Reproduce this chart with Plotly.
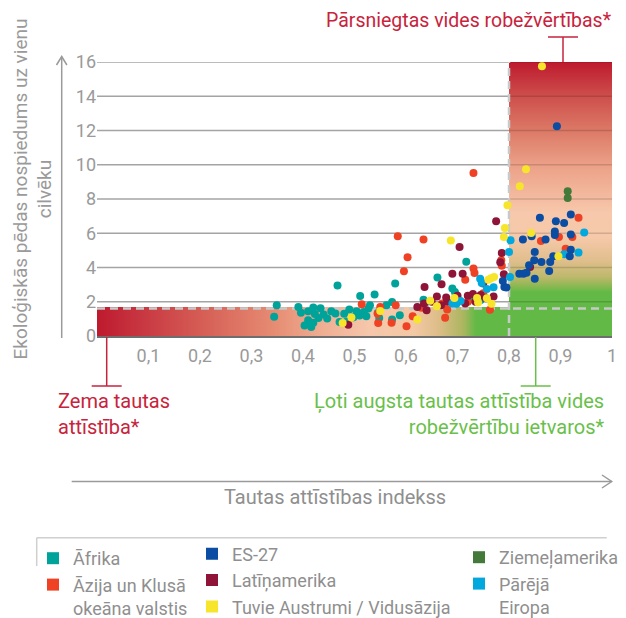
import plotly.graph_objects as go

# ---------------- data (HDI vs ecological footprint, gha per person) ----------------
afrika_x = [0.349, 0.344, 0.391, 0.396, 0.403, 0.416, 0.410, 0.420, 0.423, 0.434,
            0.430, 0.447, 0.467, 0.463, 0.471, 0.480, 0.485, 0.490, 0.498, 0.504,
            0.511, 0.510, 0.518, 0.523, 0.527, 0.539, 0.548, 0.562, 0.573, 0.573,
            0.579, 0.588, 0.634, 0.661, 0.690, 0.695, 0.697, 0.717, 0.695, 0.728,
            0.745, 0.545, 0.455, 0.440, 0.410, 0.420, 0.530, 0.638, 0.700]
afrika_y = [1.79, 1.12, 1.69, 1.36, 0.62, 0.53, 0.92, 1.66, 1.28, 1.62,
            1.05, 1.02, 2.95, 1.32, 0.82, 1.30, 0.85, 1.55, 1.10, 1.45,
            2.34, 1.20, 1.40, 1.15, 1.60, 2.43, 1.05, 1.79, 1.99, 0.96,
            3.06, 1.21, 2.12, 3.41, 2.77, 2.57, 2.43, 4.34, 2.05, 2.15,
            2.10, 1.35, 1.45, 1.25, 1.45, 0.78, 1.80, 1.95, 2.20]

azija_x = [0.731, 0.584, 0.634, 0.603, 0.596, 0.514, 0.550, 0.546, 0.572, 0.580,
           0.601, 0.613, 0.676, 0.680, 0.715, 0.731, 0.733, 0.785, 0.786, 0.763,
           0.862, 0.897, 0.923, 0.910, 0.935, 0.545, 0.670, 0.720, 0.750, 0.630]
azija_y = [9.52, 5.82, 5.63, 4.60, 3.78, 1.85, 1.70, 0.76, 0.78, 1.79,
           0.57, 1.15, 1.07, 1.55, 3.29, 3.94, 3.68, 4.42, 4.10, 1.54,
           5.55, 5.78, 5.78, 5.10, 6.90, 1.30, 1.90, 2.00, 2.50, 1.65]

latinamerika_x = [0.775, 0.704, 0.786, 0.783, 0.690, 0.669, 0.636, 0.710, 0.750, 0.680,
                  0.635, 0.640, 0.622, 0.488, 0.668, 0.678, 0.700, 0.720, 0.730, 0.745,
                  0.755, 0.770, 0.790, 0.841, 0.715, 0.735, 0.660, 0.650]
latinamerika_y = [6.70, 5.20, 4.85, 4.30, 3.64, 3.02, 2.86, 3.64, 3.06, 2.00,
                  1.90, 1.50, 1.69, 0.66, 1.80, 2.25, 2.35, 2.35, 2.45, 2.40,
                  2.20, 2.30, 3.60, 4.03, 1.90, 2.00, 2.30, 2.00]

tuvie_x = [0.864, 0.833, 0.821, 0.797, 0.792, 0.790, 0.687, 0.843, 0.896, 0.760,
           0.765, 0.771, 0.494, 0.477, 0.550, 0.622, 0.647, 0.660, 0.694, 0.738,
           0.740, 0.757, 0.766]
tuvie_y = [15.75, 9.73, 8.74, 7.63, 6.30, 5.78, 5.57, 6.01, 4.65, 3.29,
           3.37, 3.45, 1.08, 0.76, 1.46, 0.96, 2.06, 1.73, 2.22, 2.22,
           1.95, 2.20, 1.89]

es27_x = [0.893, 0.860, 0.891, 0.907, 0.920, 0.920, 0.889, 0.889, 0.844, 0.827,
          0.871, 0.850, 0.849, 0.863, 0.880, 0.886, 0.920, 0.918, 0.839, 0.820,
          0.828, 0.834, 0.850, 0.878, 0.788, 0.791, 0.795]
es27_y = [12.25, 6.91, 6.70, 6.60, 7.09, 5.92, 6.10, 5.90, 5.82, 5.63,
          5.63, 4.90, 4.42, 4.32, 4.32, 4.65, 5.04, 4.65, 4.13, 3.64,
          3.64, 3.70, 3.35, 3.80, 3.21, 2.86, 2.83]

eiropa_x = [0.946, 0.935, 0.907, 0.803, 0.800, 0.802, 0.744, 0.747, 0.770, 0.690,
            0.698, 0.757, 0.706]
eiropa_y = [6.04, 4.87, 4.77, 5.59, 4.90, 3.45, 3.35, 3.10, 2.85, 1.90,
            1.89, 2.75, 2.05]

ziemelamerika_x = [0.914, 0.914]
ziemelamerika_y = [8.45, 8.06]

x_tick_vals = [0.1, 0.2, 0.3, 0.4, 0.5, 0.6, 0.7, 0.8, 0.9, 1.0]
x_tick_text = ["0,1", "0,2", "0,3", "0,4", "0,5", "0,6", "0,7", "0,8", "0,9", "1"]
y_tick_vals = [0, 2, 4, 6, 8, 10, 12, 14, 16]
grid_y = [2, 4, 6, 8, 10, 12, 14, 16]

HDI_THRESHOLD = 0.8        # very high human development
FOOTPRINT_LIMIT = 1.6      # environmental limit (dashed line)
LOW_BAR_TOP = 1.7
Y_MAX = 16

# ---------------- styling ----------------
FONT = "Roboto"
GRAY_TXT = "#9a9a9a"
RED_TXT = "#c8233c"
GREEN_TXT = "#6abf4b"
COL = {
    "afrika": "#00a39a",
    "azija": "#ef4123",
    "es27": "#0a4da2",
    "latin": "#8e1537",
    "tuvie": "#f7e52b",
    "ziem": "#437a3a",
    "eiropa": "#00a8de",
}

# The page body keeps the browser's default 8px margin, so the figure is
# sized to fill the 626x618 window from that offset.
VIEW_W, VIEW_H, PAGE_MARGIN = 626, 618, 8
W, H = VIEW_W - PAGE_MARGIN, VIEW_H - PAGE_MARGIN
# plot area in window pixels
PX0, PX1, PY0, PY1 = 97, 612, 62, 336
L, R = PX0 - PAGE_MARGIN, VIEW_W - PX1
T, B = PY0 - PAGE_MARGIN, VIEW_H - PY1
PW, PH = PX1 - PX0, PY1 - PY0


def xp(X):
    """window x pixel -> paper coordinate"""
    return (X - PX0) / PW


def yp(Y):
    """window y pixel -> paper coordinate"""
    return (PY1 - Y) / PH


fig = go.Figure()

# gradient zones
fig.add_trace(go.Scatter(
    x=[0, HDI_THRESHOLD, HDI_THRESHOLD, 0, 0], y=[0, 0, LOW_BAR_TOP, LOW_BAR_TOP, 0],
    mode="lines", line=dict(width=0), fill="toself",
    fillgradient=dict(type="horizontal", start=0, stop=HDI_THRESHOLD, colorscale=[
        [0.0, "#be1a2e"], [0.10, "#c73540"], [0.26, "#d65f56"], [0.43, "#e68c73"],
        [0.55, "#efaf93"], [0.66, "#f6c7ab"], [0.77, "#f3c8a4"], [0.83, "#dcbd88"],
        [0.89, "#aab65e"], [0.92, "#62b946"], [1.0, "#62b946"]]),
    hoverinfo="skip", showlegend=False))

fig.add_trace(go.Scatter(
    x=[HDI_THRESHOLD, 1, 1, HDI_THRESHOLD, HDI_THRESHOLD], y=[0, 0, Y_MAX, Y_MAX, 0],
    mode="lines", line=dict(width=0), fill="toself",
    fillgradient=dict(type="vertical", start=0, stop=Y_MAX, colorscale=[
        [0.0, "#62b946"], [0.16, "#62b946"], [0.19, "#98b858"], [0.215, "#bdb86c"],
        [0.275, "#e0be8c"], [0.36, "#f6c9aa"], [0.45, "#f7c8ab"], [0.5, "#f4bca1"],
        [0.625, "#eba087"], [0.75, "#dc7966"], [0.875, "#cd4f4c"], [1.0, "#be1a2e"]]),
    hoverinfo="skip", showlegend=False))

# grid lines (white area and over coloured zone)
gx, gy, cx, cy = [], [], [], []
for g in grid_y:
    gx += [0, HDI_THRESHOLD, None]
    gy += [g, g, None]
    cx += [HDI_THRESHOLD, 1, None]
    cy += [g, g, None]
fig.add_trace(go.Scatter(x=gx, y=gy, mode="lines", line=dict(color="#a4a4a4", width=1.5),
                         hoverinfo="skip", showlegend=False))
fig.add_trace(go.Scatter(x=cx, y=cy, mode="lines", line=dict(color="rgba(0,0,0,0.15)", width=1.5),
                         hoverinfo="skip", showlegend=False))

# dashed limit lines
dash_style = dict(color="#c9c9c9", width=2.5, dash="8px,5px")
fig.add_trace(go.Scatter(x=[0, 1], y=[FOOTPRINT_LIMIT, FOOTPRINT_LIMIT], mode="lines",
                         line=dash_style, hoverinfo="skip", showlegend=False))
fig.add_trace(go.Scatter(x=[HDI_THRESHOLD, HDI_THRESHOLD], y=[0, Y_MAX], mode="lines",
                         line=dash_style, hoverinfo="skip", showlegend=False))

# data points
series = [
    ("Āfrika", afrika_x, afrika_y, COL["afrika"]),
    ("Āzija un Klusā<br>okeāna valstis", azija_x, azija_y, COL["azija"]),
    ("Latīņamerika", latinamerika_x, latinamerika_y, COL["latin"]),
    ("Pārējā<br>Eiropa", eiropa_x, eiropa_y, COL["eiropa"]),
    ("ES-27", es27_x, es27_y, COL["es27"]),
    ("Ziemeļamerika", ziemelamerika_x, ziemelamerika_y, COL["ziem"]),
    ("Tuvie Austrumi / Vidusāzija", tuvie_x, tuvie_y, COL["tuvie"]),
]
for name, xs, ys, c in series:
    fig.add_trace(go.Scatter(x=xs, y=ys, mode="markers", name=name,
                             marker=dict(color=c, size=8, line=dict(width=0)),
                             cliponaxis=False, showlegend=False))

# legend entries (square keys)
legend_order = [
    ("Āfrika", COL["afrika"], "legend"),
    ("Āzija un Klusā<br>okeāna valstis", COL["azija"], "legend"),
    ("ES-27", COL["es27"], "legend2"),
    ("Latīņamerika", COL["latin"], "legend2"),
    ("Tuvie Austrumi / Vidusāzija", COL["tuvie"], "legend2"),
    ("Ziemeļamerika", COL["ziem"], "legend3"),
    ("Pārējā<br>Eiropa", COL["eiropa"], "legend3"),
]
for name, c, lg in legend_order:
    fig.add_trace(go.Scatter(x=[None], y=[None], mode="markers", name=name,
                             marker=dict(color=c, size=12, symbol="square"),
                             legend=lg, showlegend=True))

leg_common = dict(yanchor="top", xanchor="left", bgcolor="rgba(0,0,0,0)",
                  font=dict(family=FONT, size=18, color="#8f8f8f"),
                  itemsizing="trace", valign="top", tracegroupgap=0, traceorder="normal")

line_gray = dict(color="#9a9a9a", width=1.5)
red_line = dict(color=RED_TXT, width=1.5)
green_line = dict(color=GREEN_TXT, width=1.5)
shapes = [
    # y axis arrow
    dict(type="line", xref="paper", yref="paper", x0=xp(61.7), x1=xp(61.7), y0=yp(338), y1=yp(56.5), line=line_gray),
    dict(type="path", xref="paper", yref="paper",
         path=f"M{xp(56.5)},{yp(65)} L{xp(61.7)},{yp(56.5)} L{xp(66.9)},{yp(65)}", line=line_gray),
    # x axis arrow
    dict(type="line", xref="paper", yref="paper", x0=xp(71.7), x1=xp(611.7), y0=yp(481.5), y1=yp(481.5), line=line_gray),
    dict(type="path", xref="paper", yref="paper",
         path=f"M{xp(602)},{yp(475)} L{xp(611.7)},{yp(481.5)} L{xp(602)},{yp(488)}", line=line_gray),
    # brackets
    dict(type="line", xref="paper", yref="paper", x0=xp(563), x1=xp(563), y0=yp(62), y1=yp(37), line=red_line),
    dict(type="line", xref="paper", yref="paper", x0=xp(548), x1=xp(578), y0=yp(37), y1=yp(37), line=red_line),
    dict(type="line", xref="paper", yref="paper", x0=xp(106.7), x1=xp(106.7), y0=yp(337), y1=yp(386), line=red_line),
    dict(type="line", xref="paper", yref="paper", x0=xp(91.7), x1=xp(121.7), y0=yp(386), y1=yp(386), line=red_line),
    dict(type="line", xref="paper", yref="paper", x0=xp(535.7), x1=xp(535.7), y0=yp(337), y1=yp(386), line=green_line),
    dict(type="line", xref="paper", yref="paper", x0=xp(520.7), x1=xp(550.7), y0=yp(386), y1=yp(386), line=green_line),
    # legend frame
    dict(type="line", xref="paper", yref="paper", x0=xp(36.7), x1=xp(606.7), y0=yp(537.7), y1=yp(537.7),
         line=dict(color="#cfcfcf", width=1.5)),
    dict(type="line", xref="paper", yref="paper", x0=xp(36.7), x1=xp(36.7), y0=yp(537.7), y1=yp(566),
         line=dict(color="#cfcfcf", width=1.5)),
]

annotations = [
    dict(text="Pārsniegtas vides robežvērtības*", xref="paper", yref="paper", x=xp(614), y=yp(20),
         xanchor="right", yanchor="middle", showarrow=False, font=dict(family=FONT, size=19.5, color=RED_TXT)),
    dict(text="Zema tautas<br>attīstība*", xref="paper", yref="paper", x=xp(56), y=yp(414),
         xanchor="left", yanchor="middle", align="left", showarrow=False,
         font=dict(family=FONT, size=20, color=RED_TXT)),
    dict(text="Ļoti augsta tautas attīstība vides<br>robežvērtību ietvaros*", xref="paper", yref="paper",
         x=xp(606), y=yp(414), xanchor="right", yanchor="middle", align="right", showarrow=False,
         font=dict(family=FONT, size=20, color=GREEN_TXT)),
    dict(text="Tautas attīstības indekss", xref="paper", yref="paper", x=xp(335), y=yp(497),
         xanchor="center", yanchor="middle", showarrow=False, font=dict(family=FONT, size=20, color="#8f8f8f")),
    dict(text="Ekoloģiskās pēdas nospiedums uz vienu<br>cilvēku", xref="paper", yref="paper",
         x=xp(32.5), y=yp(189), xanchor="center", yanchor="middle", textangle=-90, showarrow=False,
         font=dict(family=FONT, size=19, color="#9a9a9a")),
]

fig.update_layout(
    width=W, height=H,
    margin=dict(l=L, r=R, t=T, b=B, pad=0, autoexpand=False),
    paper_bgcolor="white", plot_bgcolor="white",
    font=dict(family=FONT, color=GRAY_TXT),
    xaxis=dict(range=[0, 1], tickvals=x_tick_vals, ticktext=x_tick_text, showgrid=False, zeroline=False,
               showline=True, linecolor="#6e6e6e", linewidth=2, ticks="", layer="above traces",
               tickfont=dict(family=FONT, size=18, color=GRAY_TXT), fixedrange=True, automargin=False,
               ticklabelstandoff=2),
    yaxis=dict(range=[0, Y_MAX], tickvals=y_tick_vals, showgrid=False, zeroline=False, showline=False,
               ticks="", tickfont=dict(family=FONT, size=18, color=GRAY_TXT), fixedrange=True,
               automargin=False),
    legend=dict(x=xp(33), y=yp(540), **leg_common),
    legend2=dict(x=xp(192), y=yp(535.5), **leg_common),
    legend3=dict(x=xp(459), y=yp(539), **leg_common),
    shapes=shapes,
    annotations=annotations,
)

fig.write_html("out.html")
